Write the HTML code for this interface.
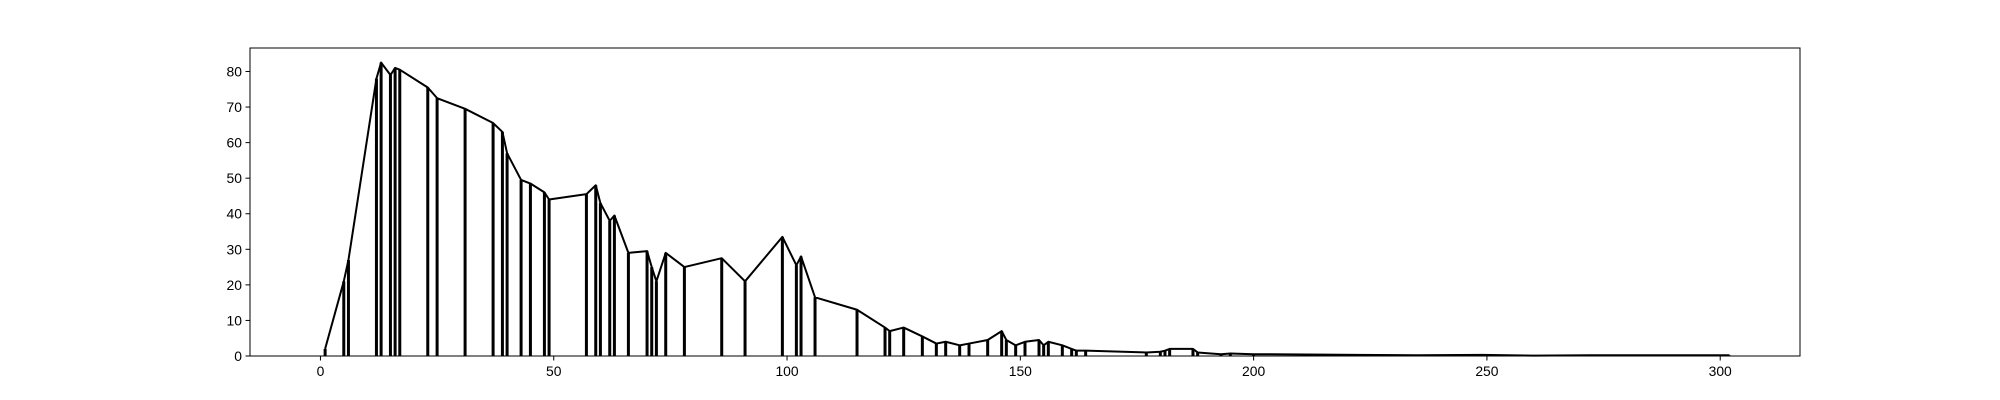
<!DOCTYPE html>
<html><head><meta charset="utf-8"><style>
html,body{margin:0;padding:0;background:#fff;}
svg{display:block;font-family:"Liberation Sans","DejaVu Sans",sans-serif;}
</style></head><body>
<svg id="chart" width="2000" height="400" xmlns="http://www.w3.org/2000/svg"></svg>
<script>
const xs=[1,5,6,12,13,15,16,17,23,25,31,37,39,40,43,45,48,49,57,59,60,62,63,66,70,71,72,74,78,86,91,99,102,103,106,115,121,122,125,129,132,134,137,139,143,146,147,149,151,154,155,156,159,161,162,164,177,180,181,182,187,188,193,195,200,215,222,235,249,260,272,280,302];
const ys=[2,21,27,78,82.5,79,81,80.5,75.5,72.5,69.5,65.5,63,57,49.5,48.5,46,44,45.5,48,43,38,39.5,29,29.5,25,21,29,25,27.5,21,33.5,25.5,28,16.5,13,8,7,8,5.5,3.5,4,3,3.5,4.5,7,4.5,3,4,4.5,3,4,3,2,1.5,1.5,1,1.2,1.5,2,2,1,0.5,0.7,0.5,0.4,0.3,0.2,0.3,0.1,0.2,0.2,0.2];
const xTicks=[0,50,100,150,200,250,300];
const yTicks=[0,10,20,30,40,50,60,70,80];
const L=250,R=1800,T=48,B=356;
const xmin=-15.1,xmax=317.1,ymin=0,ymax=86.6;
const sx=v=>L+(v-xmin)/(xmax-xmin)*(R-L);
const sy=v=>B-(v-ymin)/(ymax-ymin)*(B-T);
const NS="http://www.w3.org/2000/svg";
const svg=document.getElementById('chart');
function mk(t,a){const e=document.createElementNS(NS,t);for(const k in a)e.setAttribute(k,a[k]);svg.appendChild(e);return e;}
const stems=document.createElementNS(NS,'g');svg.appendChild(stems);


xs.forEach((x,i)=>{const l=document.createElementNS(NS,'line');
l.setAttribute('x1',sx(x));l.setAttribute('x2',sx(x));l.setAttribute('y1',sy(0));l.setAttribute('y2',sy(ys[i]));
l.setAttribute('stroke','#000');l.setAttribute('stroke-width','3');


stems.appendChild(l);});
const pl=mk('polyline',{points:xs.map((x,i)=>sx(x)+','+sy(ys[i])).join(' '),fill:'none',stroke:'#000','stroke-width':'2','stroke-linejoin':'round'});


const fr=mk('rect',{x:L,y:T,width:R-L,height:B-T,fill:'none',stroke:'#000','stroke-width':'1'});


xTicks.forEach(v=>{const x=sx(v);mk('line',{x1:x,x2:x,y1:B,y2:B+4.5,stroke:'#000','stroke-width':'1'});
const t=mk('text',{x:x,y:B+20,'font-size':'13.9','text-anchor':'middle'});t.textContent=v;

});
yTicks.forEach(v=>{const y=sy(v);mk('line',{x1:L-4.5,x2:L,y1:y,y2:y,stroke:'#000','stroke-width':'1'});
const t=mk('text',{x:L-8,y:y+5,'font-size':'13.9','text-anchor':'end'});t.textContent=v;

});
</script>
</body></html>
